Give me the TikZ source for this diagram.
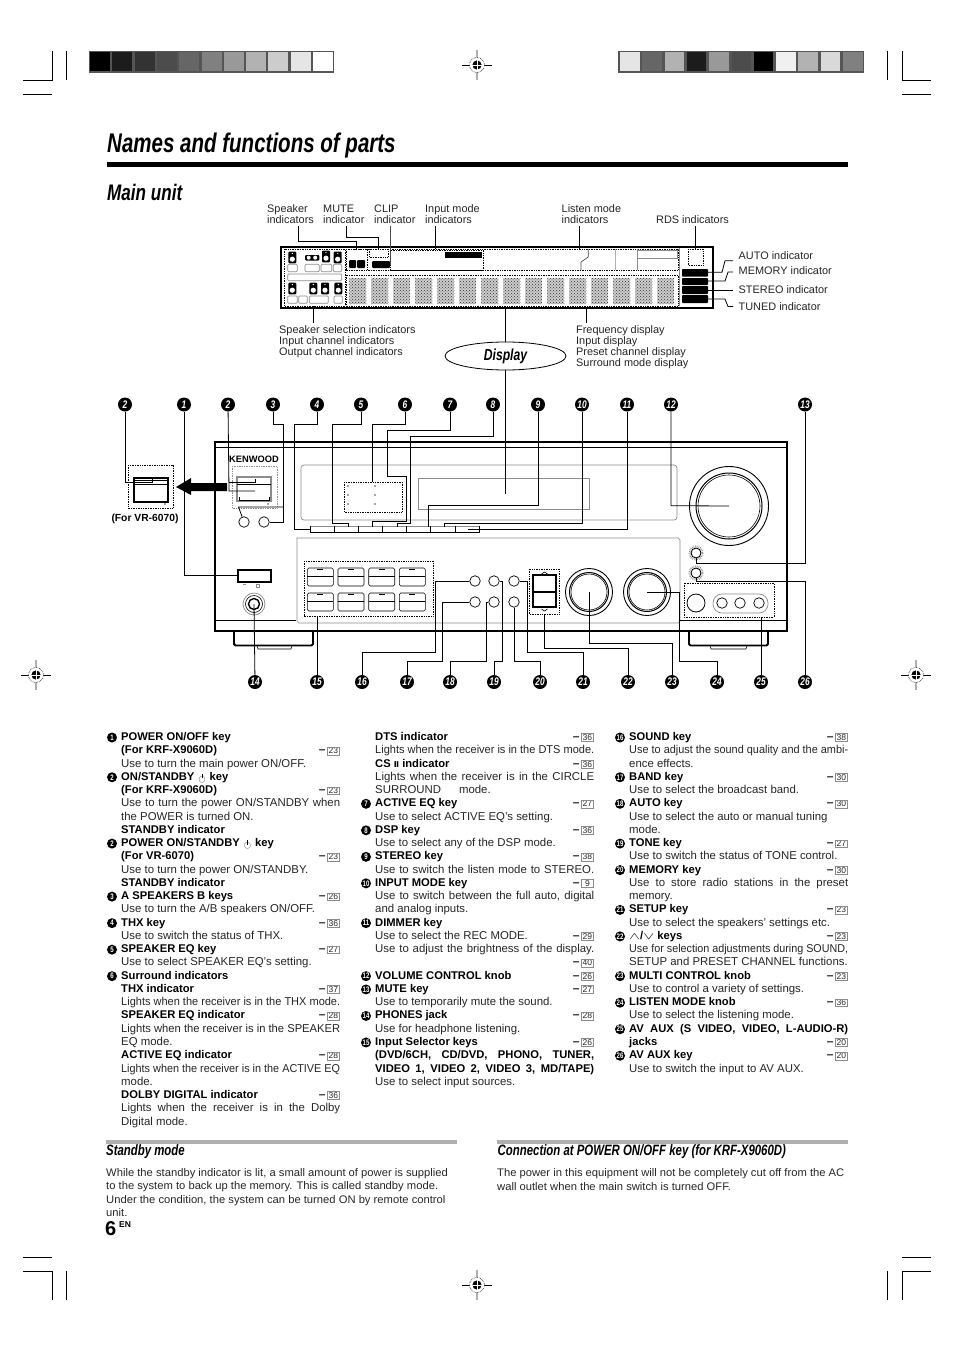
\documentclass[tikz,border=0pt]{standalone}
\usepackage{fontspec}
\usepackage{graphicx}
\usepackage{xcolor}
\usepackage{tikz}
\usetikzlibrary{calc,patterns,shapes.geometric,arrows.meta}
\setmainfont{Liberation Sans}
\newfontfamily\headfont[FakeStretch=0.76]{Liberation Sans}
\newfontfamily\notefont[FakeStretch=1.02]{Liberation Sans}
\newfontfamily\symfont{DejaVu Sans}
\definecolor{ink}{HTML}{262626}
\definecolor{muted}{HTML}{8C8C8C}
\definecolor{barline}{HTML}{555555}
\definecolor{rulegray}{HTML}{B0B0B0}
\tikzset{
  lead/.style={draw=black, line width=0.8pt},
  cut/.style={draw=black, line width=0.8pt},
  body/.style={draw=black, line width=1.9pt},
  thin/.style={draw=black, line width=0.6pt},
  pale/.style={draw=muted, line width=0.7pt},
  dots/.style={draw=black, line width=0.7pt, densely dotted},
  callnum/.style={circle, fill=black, inner sep=0pt, minimum size=14pt, text=white,
    font=\headfont\bfseries\itshape\fontsize{11}{11}\selectfont},
  listnum/.style={circle, fill=black, inner sep=0pt, minimum size=10pt, text=white,
    font=\headfont\bfseries\fontsize{8}{8}\selectfont},
  roundkey/.style={circle, draw=black, line width=0.7pt, inner sep=0pt, minimum size=10.5pt},
  lab/.style={anchor=west, inner sep=0pt, yshift=-0.7pt, text=ink, text height=8pt, text depth=2pt,
    font=\fontsize{10.9}{13}\selectfont},
  listr/.style={anchor=west, inner sep=0pt, text=ink, text height=8pt, text depth=2pt,
    font=\fontsize{11.4}{13}\selectfont},
  labb/.style={anchor=west, inner sep=0pt, text=black, text height=8pt, text depth=2pt,
    font=\bfseries\fontsize{11.2}{13}\selectfont},
  note/.style={anchor=west, inner sep=0pt, text=ink, text height=8pt, text depth=2pt,
    font=\notefont\fontsize{11}{13}\selectfont},
  bighead/.style={anchor=west, inner sep=0pt, text=black},
  pgnum/.style={anchor=east, inner sep=0pt, text=ink, text height=8pt, text depth=2pt,
    font=\fontsize{8.5}{9}\selectfont},
}
\newlength{\fitw}
\newcommand{\fitline}[1]{\settowidth{\fitw}{#1}\ifdim\fitw>219pt\resizebox{219pt}{\height}{#1}\else\makebox[219pt][s]{#1}\fi}
\newcommand{\pwr}{\makebox[9pt]{\ooalign{\hfil\raisebox{-1pt}{\scalebox{.62}{$\bigcirc$}}\hfil\cr\hfil\rule[2pt]{.7pt}{4.5pt}\hfil\cr}}}
\newcommand{\pgbox}[1]{\textbf{\large --}\kern1.5pt\fcolorbox{muted}{white}{\makebox[10.5pt]{#1}}}
\setlength{\fboxsep}{0.7pt}
\setlength{\fboxrule}{0.4pt}

\begin{document}
\begin{tikzpicture}[x=1pt,y=-1pt]
  \useasboundingbox (0,0) rectangle (954,1351);
  \fill[white] (0,0) rectangle (954,1351);
  % printer marks
  \fill[barline] (89,51) rectangle (334,73);
  \foreach \i/\g in {0/0,1/11,2/20,3/30,4/40,5/50,6/60,7/70,8/80,9/90,10/100}
    \fill[white!\g!black] ({90+22.3*\i},52) rectangle ({110+22.3*\i},71.5);
  \fill[barline] (618,51) rectangle (864,73);
  \foreach \i/\g in {0/90,1/40,2/70,3/11,4/60,5/30,6/0,7/94,8/70,9/85,10/50}
    \fill[white!\g!black] ({620+22.3*\i},52) rectangle ({639.5+22.3*\i},71.5);
  \foreach \x/\xa in {52/23,902/931} {
    \draw[cut] (\x,51) -- (\x,80) -- (\xa,80);
    \draw[cut] (\x,94) -- (\xa,94);
    \draw[cut] (\x,1300) -- (\x,1271) -- (\xa,1271);
    \draw[cut] (\x,1257) -- (\xa,1257);
  }
  \foreach \x in {66,887} {
    \draw[cut] (\x,51) -- (\x,80);
    \draw[cut] (\x,1271) -- (\x,1300);
  }
  \foreach \x/\y in {477/65,36/675,916/675,477/1285} {
    \draw[draw=rulegray, line width=1.4pt] (\x,\y-15) -- (\x,\y+15);
    \draw[thin] (\x-15,\y) -- (\x+15,\y);
    \draw[thin, densely dotted, fill=white] (\x,\y) circle (7.5);
    \fill[black] (\x,\y) circle (4.6);
    \draw[draw=white, line width=0.7pt] (\x-4.6,\y) -- (\x+4.6,\y) (\x,\y-4.6) -- (\x,\y+4.6);
  }
  % titles
  \node[bighead, font=\headfont\bfseries\itshape\fontsize{27}{30}\selectfont] (title) at (107,145.5) {Names and functions of parts};
  \fill[black] (107,162) rectangle (848,167);
  \node[bighead, font=\headfont\bfseries\itshape\fontsize{22.5}{24}\selectfont] (mainunit) at (107,192.5) {Main unit};
  % display window
  \draw[body, line width=1.7pt] (281,247) rectangle (713,308);
  \draw[dots] (284,249) rectangle (345,306);
  \draw[dots] (346,249) rectangle (678,270);
  \draw[dots] (346,275) rectangle (678,306);
  \draw[dots] (346,249) rectangle (367,270);
  \draw[dots] (369,249) rectangle (388,257);
  \draw[dots] (390,250) rectangle (483,270);
  \fill[black, rounded corners=1pt] (372,261) rectangle (390,268);
  \fill[black, rounded corners=1pt] (349,260) rectangle (356,268);
  \fill[black, rounded corners=1pt] (357,260) rectangle (365,268);
  \fill[black] (445,252) rectangle (482,258);
  \draw[pale, rulegray] (615,249) -- (615,270);
  \draw[pale] (637,249) -- (637,270);
  \draw[pale] (637,250) rectangle (677,258);
  \draw[pale, line width=1pt] (679,248) -- (679,306);
  \draw[dots] (688,249) rectangle (703,265);
  \foreach \y/\ya in {269/276.7,278/285,286/294,295/303}
    \fill[black, rounded corners=0.8pt] (682,\y) rectangle (708,\ya);
  \foreach \x/\y in {292.3/251.7,326/250.7,337.7/251.7,292.3/282.7,313.3/282.7,325/282.7,338.3/282.7} {
    \fill[black, rounded corners=1pt] (\x-4,\y) rectangle (\x+4,\y+11.6);
    \fill[white] (\x,\y+7.5) circle (2.6);
    \fill[white] (\x,\y+1.8) circle (0.7);
  }
  \fill[black, rounded corners=1pt] (305,255) rectangle (319.3,260.5);
  \fill[white] (308.7,257.7) circle (2) (315.2,257.7) circle (2);
  \foreach \xa/\ya/\xb/\yb in {287.7/264.3/297.3/271.7,305/264.3/319.3/271.7,321/264.3/331.7/271.7,333.3/264.3/341.7/271.7,
    287.7/274/341.7/280.7,287.7/296/297.3/303.3,298.7/296/307.3/303.3,309.3/296/328.3/303.3,334/296/342.3/303.3}
    \draw[pale, rounded corners=1pt] (\xa,\ya) rectangle (\xb,\yb);
  \foreach \i in {0,...,14}
    \fill[pattern=crosshatch dots, pattern color=black!80, preaction={fill=black!20}] ({349.3+22*\i},278) rectangle ({366.3+22*\i},304);
  % display labels
  \foreach \nm/\x/\y/\txt in {a/267/209/Speaker,b/267/219.5/indicators,c/323/209/MUTE,d/323/219.5/indicator,
    e/374/209/CLIP,f/374/219.5/indicator,g/425/209/Input mode,h/425/219.5/indicators,
    i/561.5/209/Listen mode,j/561.5/219.5/indicators,k/656/220/RDS indicators,
    l/738.5/256/AUTO indicator,m/738.5/271/MEMORY indicator,n/738.5/290/STEREO indicator,o/738.5/307/TUNED indicator,
    p/279/329.5/Speaker selection indicators,q/279/340.5/Input channel indicators,r/279/351.5/Output channel indicators,
    s/576/329.5/Frequency display,t/576/340.5/Input display,u/576/351.5/Preset channel display,v/576/362.5/Surround mode display}
    \node[lab] (d\nm) at (\x,\y) {\txt};
  \draw[lead] (298,226) -- (298,241.7) -- (356.7,241.7) -- (356.7,249);
  \draw[lead] (346.7,226) -- (346.7,237) -- (378,237) -- (378,249);
  \draw[pale, black!70] (390.7,226) -- (390.7,265);
  \draw[lead] (435.7,226) -- (435.7,249);
  \draw[lead] (579.3,226) -- (579.3,249);
  \draw[pale, black!70] (588.3,249) -- (588.3,257) -- (581,262) -- (581,270);
  \draw[lead] (695,226) -- (695,249);
  \draw[lead] (708,272.3) -- (722,272.3) -- (725,260.7) -- (733,260.7);
  \draw[lead] (708,281) -- (725,281) -- (728,272) -- (733,272);
  \draw[lead] (708,290) -- (733,290);
  \draw[lead] (708,299) -- (725,299) -- (728,306.5) -- (733,306.5);
  \draw[lead] (313,306) -- (313,323);
  \draw[lead] (586.7,308) -- (586.7,323);
  \node[ellipse, draw=black, line width=0.8pt, minimum width=121pt, minimum height=28pt, inner sep=0pt,
    font=\headfont\bfseries\itshape\fontsize{16}{16}\selectfont] (dispell) at (505.5,356) {Display};
  \coordinate (dispwin) at (505.5,308);
  \coordinate (dispfront) at (505.5,494);
  \draw[lead] (dispwin) -- (dispell);
  % receiver
  \draw[pale] (297,538) -- (678,538) -- (680,540) -- (680,621) -- (678,623) -- (299,623) -- (297,621) -- (297,540) -- cycle;
  \draw[pale, rounded corners=3pt] (301,465) rectangle (677,520);
  \draw[pale] (418,478) rectangle (589,509);
  \draw[body] (215,631) -- (215,442) -- (787,442) -- (787,631) -- cycle;
  \draw[thin] (215,447.5) -- (787,447.5);
  \draw[thin] (215,620) -- (296,620);
  \draw[thin] (680,620) -- (787,620);
  \foreach \xa/\xb/\xc/\xd in {234/313/257/292,689/768/710/747} {
    \draw[body, rounded corners=1.5pt] (\xa,631) -- (\xa,645.5) -- (\xb,645.5) -- (\xb,631);
    \draw[thin] (\xc,646) -- (\xc+1,649) -- (\xd-1,649) -- (\xd,646);
  }
  \node[inner sep=0pt, font=\bfseries\fontsize{9.3}{10}\selectfont] (brand) at (254,459) {KENWOOD};
  % standby keys
  \draw[pale, densely dotted] (232,466) rectangle (277,508);
  \draw[pale, line width=1.4pt] (237,477) rectangle (271,501);
  \draw[thin] (237,484) -- (271,484);
  \draw[body, line width=0.9pt] (239,497) -- (239,500) -- (269,500) -- (269,497);
  \fill[black!70] (268,504) circle (0.9);
  \draw[dots] (128,465) rectangle (173,508);
  \draw[body, line width=1.5pt] (134,478) rectangle (168,502);
  \draw[body, line width=1pt] (134,484.5) -- (168,484.5);
  \draw[thin] (134,480) -- (168,480);
  \fill[black!70] (165,504) circle (0.9);
  \node[inner sep=0pt, font=\bfseries\fontsize{10.3}{11}\selectfont] (forvr) at (145,519) {(For VR-6070)};
  \fill[black] (227,483) -- (191,483) -- (191,478) -- (176,487) -- (191,495) -- (191,491) -- (227,491) -- cycle;
  \node[roundkey] (keyA) at (244,522) {};
  \node[roundkey] (keyB) at (264,522) {};
  % display panel keys
  \draw[pale] (310,526) -- (479.3,526);
  \draw[thin, line width=1pt] (310,532.5) -- (479.3,532.5);
  \foreach \x in {310,334.3,358.3,382.7,406.7,430.7,455,479.3}
    \draw[thin] (\x,526) -- (\x,532.5);
  \draw[dots] (344,482) rectangle (402,512);
  \foreach \x in {348,375}
    \foreach \y in {486,495,504}
      \fill[black!70] (\x,\y) circle (0.8);
  % power, phones
  \draw[body] (238,570) rectangle (271,582);
  \draw[pale] (243,584) -- (246,584) (256,584) rectangle (259,587);
  \draw[pale] (254,604) circle (11);
  \draw[thin] (254,604) circle (8.5);
  \draw[body, line width=1.4pt] (254,604) circle (5.5);
  \coordinate (phones) at (254,604);
  % input selector
  \draw[dots] (304,561) rectangle (433,616);
  \foreach \x in {307.3,338,368.7,399.3}
    \foreach \y in {568,593} {
      \draw[thin, rounded corners=1.5pt] (\x,\y) rectangle (\x+26,\y+18);
      \draw[thin] (\x,\y+8.5) -- (\x+26,\y+8.5);
      \draw[thin] (\x+10,\y+1.5) -- (\x+16,\y+1.5);
    }
  \foreach \nm/\x/\y in {sound/475/581,band/475/602,auto/494/581,tone/494/602,setup/514/581,memory/514/602}
    \node[roundkey] (\nm) at (\x,\y) {};
  % up down keys
  \draw[dots] (529,569) rectangle (559,614);
  \draw[body, line width=1.3pt] (533,575) rectangle (556,607);
  \draw[body, line width=1.3pt] (533,592) -- (556,592);
  \draw[thin] (541.5,574) -- (544.5,572) -- (547.5,574);
  \draw[thin] (541.5,609) -- (544.5,611) -- (547.5,609);
  % knobs
  \foreach \x/\y/\ra/\rb/\rc in {589/592/23.5/19.5/18,647/592/23.5/19.5/18,729/506/39.5/33/31} {
    \draw[thin, line width=0.9pt] (\x,\y) circle (\ra);
    \draw[thin, line width=1pt] (\x,\y) circle (\rb);
    \draw[thin] (\x,\y) circle (\rc);
  }
  \coordinate (multi) at (589,592);
  \coordinate (listen) at (647,592);
  \coordinate (volume) at (729,506);
  \foreach \nm/\y in {mute/553,avkey/573} {
    \draw[pale, densely dotted, line width=1.6pt] (696,\y) circle (6.7);
    \node[circle, draw=black, line width=0.9pt, inner sep=0pt, minimum size=10pt] (\nm) at (696,\y) {};
  }
  \draw[dots] (684,583) rectangle (774,617);
  \node[circle, draw=black, line width=0.8pt, inner sep=0pt, minimum size=18pt] (avS) at (696,603) {};
  \draw[pale, rounded corners=9pt] (713,594) rectangle (768,613);
  \foreach \x in {722,740,759}
    \node[roundkey] at (\x,603) {};
  % callout numbers
  \foreach \nm/\x/\n in {2b/125/2,1/184/1,2/228/2,3/273/3,4/317/4,5/361/5,6/405/6,7/450/7,8/493/8,9/538/9,
    10/582/10,11/627/11,12/671/12,13/805/13}
    \node[callnum] (n\nm) at (\x,404.5) {\n};
  \foreach \x/\n in {255/14,317/15,362/16,407/17,450/18,494/19,540/20,583/21,628/22,672/23,717/24,761/25,805/26}
    \node[callnum] (n\n) at (\x,682) {\n};
  % connectors
  \draw[lead] (n2b) -- (125,482.3) -- (152,482.3) -- (152,479);
  \draw[lead] (n1) -- (184,575) -- (238,575);
  \draw[lead] (n2) -- (229,491) -- (255,491);
  \draw[lead] (229,482.3) -- (255,482.3) -- (255,479);
  \draw[lead] (n3) -- (273,424) -- (283,424) -- (283,522) -- (keyB);
  \draw[lead] (283,507) -- (238.5,507) -- (keyA);
  \draw[lead] (n4) -- (317,424) -- (294,424) -- (294,529) -- (310,529);
  \draw[lead] (n5) -- (361,424) -- (332,424) -- (332,523) -- (348,523) -- (348,527);
  \draw[lead] (n6) -- (405,424) -- (372,424) -- (372,482);
  \draw[lead] (n7) -- (450,430.7) -- (387,430.7) -- (387,476) -- (406,476) -- (406,521) -- (372.7,521) -- (372.7,527);
  \draw[lead] (n8) -- (493,436.7) -- (410,436.7) -- (410,523) -- (397,523) -- (397,527);
  \draw[lead] (n9) -- (538,505.7) -- (428,505.7) -- (428,527);
  \draw[lead] (n10) -- (582,523) -- (444,523) -- (444,527);
  \draw[lead] (n11) -- (627,529) -- (468,529);
  \draw[lead] (n12) -- (671,505.7) -- (volume);
  \draw[lead] (n13) -- (805,563) -- (696,563) -- (mute);
  \draw[lead] (dispell) -- (dispfront);
  \draw[lead] (n14) -- (phones);
  \draw[lead] (n15) -- (317,616);
  \draw[lead] (n16) -- (362,652) -- (435,652) -- (435,581) -- (sound);
  \draw[lead] (n17) -- (407,661.5) -- (442.7,661.5) -- (442.7,602) -- (band);
  \draw[lead] (n18) -- (450,661.5) -- (486,661.5) -- (486,602) -- (tone);
  \draw[lead] (n19) -- (494,661.5) -- (502,661.5) -- (502,581) -- (auto);
  \draw[lead] (n20) -- (540,661.5) -- (514,661.5) -- (memory);
  \draw[lead] (n21) -- (583,652.7) -- (527,652.7) -- (527,581) -- (setup);
  \draw[lead] (n22) -- (628,648) -- (544,648) -- (544,614);
  \draw[lead] (n23) -- (672,643.3) -- (589,643.3) -- (multi);
  \draw[lead] (n24) -- (717,661.5) -- (679,661.5) -- (679,592) -- (listen);
  \draw[lead] (n25) -- (761,617);
  \draw[lead] (n26) -- (805,581) -- (696,581) -- (avkey);
  % list, column one
  \def\cx{121}
  \def\ytop{737.5}
  \foreach \k/\n in {0/1,3/2,8/2,12/3,14/4,16/5,18/6}
    \node[listnum] (a\k) at (\cx-9,{\ytop+13.26*\k}) {\n};
  \foreach \k/\txt in {0/{POWER ON/OFF key},1/{(For KRF-X9060D)},3/{ON/STANDBY \pwr{} key},4/{(For KRF-X9060D)},7/{STANDBY indicator},
    8/{POWER ON/STANDBY \pwr{} key},9/{(For VR-6070)},11/{STANDBY indicator},12/{A SPEAKERS B keys},14/{THX key},16/{SPEAKER EQ key},
    18/{Surround indicators},19/{THX indicator},21/{SPEAKER EQ indicator},24/{ACTIVE EQ indicator},27/{DOLBY DIGITAL indicator}}
    \node[labb] (b\k) at (\cx,{\ytop+13.26*\k}) {\txt};
  \foreach \k/\txt in {2/{Use to turn the main power ON/OFF.},5/{\fitline{Use to turn the power ON/STANDBY when}},6/{the POWER is turned ON.},
    10/{Use to turn the power ON/STANDBY.},13/{Use to turn the A/B speakers ON/OFF.},15/{Use to switch the status of THX.},
    17/{Use to select SPEAKER EQ’s setting.},20/{\fitline{Lights when the receiver is in the THX mode.}},
    22/{\fitline{Lights when the receiver is in the SPEAKER}},23/{EQ mode.},25/{\fitline{Lights when the receiver is in the ACTIVE EQ}},26/{mode.},
    28/{\fitline{Lights when the receiver is in the Dolby}},29/{Digital mode.}}
    \node[listr] (c\k) at (\cx,{\ytop+13.26*\k}) {\txt};
  \foreach \k/\n in {1/23,4/23,9/23,12/26,14/36,16/27,19/37,21/28,24/28,27/36}
    \node[pgnum] (e\k) at (\cx+219,{\ytop+13.26*\k}) {\pgbox{\n}};
  % list, column two
  \def\cx{375}
  \foreach \k/\n in {5/7,7/8,9/9,11/10,14/11,18/12,19/13,21/14,23/15}
    \node[listnum] (f\k) at (\cx-9,{\ytop+13.26*\k}) {\n};
  \foreach \k/\txt in {0/{DTS indicator},2/{CS {\symfont\fontsize{8}{9}\selectfont Ⅱ} indicator},5/{ACTIVE EQ key},7/{DSP key},9/{STEREO key},11/{INPUT MODE key},14/{DIMMER key},
    18/{VOLUME CONTROL knob},19/{MUTE key},21/{PHONES jack},23/{Input Selector keys},24/{\fitline{(DVD/6CH, CD/DVD, PHONO, TUNER,}},
    25/{\fitline{VIDEO 1, VIDEO 2, VIDEO 3, MD/TAPE)}}}
    \node[labb] (g\k) at (\cx,{\ytop+13.26*\k}) {\txt};
  \foreach \k/\txt in {1/{\fitline{Lights when the receiver is in the DTS mode.}},3/{\fitline{Lights when the receiver is in the CIRCLE}},
    4/{SURROUND\hspace*{18pt}mode.},6/{Use to select ACTIVE EQ’s setting.},8/{Use to select any of the DSP mode.},10/{\fitline{Use to switch the listen mode to STEREO.}},
    12/{\fitline{Use to switch between the full auto, digital}},13/{and analog inputs.},15/{Use to select the REC MODE.},
    16/{\fitline{Use to adjust the brightness of the display.}},20/{Use to temporarily mute the sound.},22/{Use for headphone listening.},
    26/{Use to select input sources.}}
    \node[listr] (h\k) at (\cx,{\ytop+13.26*\k}) {\txt};
  \foreach \k/\n in {0/36,2/36,5/27,7/36,9/38,11/9,15/29,17/40,18/26,19/27,21/28,23/26}
    \node[pgnum] (i\k) at (\cx+219,{\ytop+13.26*\k}) {\pgbox{\n}};
  % list, column three
  \def\cx{629}
  \foreach \k/\n in {0/16,3/17,5/18,8/19,10/20,13/21,15/22,18/23,20/24,22/25,24/26}
    \node[listnum] (j\k) at (\cx-9,{\ytop+13.26*\k}) {\n};
  \foreach \k/\txt in {0/{SOUND key},3/{BAND key},5/{AUTO key},8/{TONE key},10/{MEMORY key},13/{SETUP key},15/{\scalebox{1.5}[.9]{$\wedge$}/\scalebox{1.5}[.9]{$\vee$} keys},
    18/{MULTI CONTROL knob},20/{LISTEN MODE knob},22/{\fitline{AV AUX (S VIDEO, VIDEO, L-AUDIO-R)}},23/{jacks},24/{AV AUX key}}
    \node[labb] (l\k) at (\cx,{\ytop+13.26*\k}) {\txt};
  \foreach \k/\txt in {1/{\fitline{Use to adjust the sound quality and the ambi-}},2/{ence effects.},4/{Use to select the broadcast band.},
    6/{Use to select the auto or manual tuning},7/{mode.},9/{Use to switch the status of TONE control.},
    11/{\fitline{Use to store radio stations in the preset}},12/{memory.},14/{Use to select the speakers’ settings etc.},
    16/{\fitline{Use for selection adjustments during SOUND,}},17/{SETUP and PRESET CHANNEL functions.},19/{Use to control a variety of settings.},
    21/{Use to select the listening mode.},25/{Use to switch the input to AV AUX.}}
    \node[listr] (m\k) at (\cx,{\ytop+13.26*\k}) {\txt};
  \foreach \k/\n in {0/38,3/30,5/30,8/27,10/30,13/23,15/23,18/23,20/36,23/20,24/20}
    \node[pgnum] (o\k) at (\cx+219,{\ytop+13.26*\k}) {\pgbox{\n}};
  % notes
  \fill[rulegray] (106,1140) rectangle (457,1143.5);
  \fill[rulegray] (497,1140) rectangle (848,1143.5);
  \node[bighead, font=\headfont\bfseries\itshape\fontsize{15}{15}\selectfont] (stbyh) at (106,1151.5) {Standby mode};
  \node[bighead, font=\headfont\bfseries\itshape\fontsize{15}{15}\selectfont] (connh) at (497.5,1151.5) {Connection at POWER ON/OFF key (for KRF-X9060D)};
  \foreach \nm/\y/\txt in {a/1173/{While the standby indicator is lit, a small amount of power is supplied},
    b/1186.5/{to the system to back up the memory. This is called standby mode.},
    c/1200/{Under the condition, the system can be turned ON by remote control},d/1213.5/{unit.}}
    \node[note] (s\nm) at (106,\y) {\txt};
  \foreach \nm/\y/\txt in {a/1173/{The power in this equipment will not be completely cut off from the AC},
    b/1187/{wall outlet when the main switch is turned OFF.}}
    \node[note] (t\nm) at (497,\y) {\txt};
  \node[bighead, font=\bfseries\fontsize{20}{22}\selectfont] (pagenum) at (105,1229) {6};
  \node[bighead, font=\bfseries\fontsize{8.5}{10}\selectfont] (pagelang) at (119,1224.5) {EN};
\end{tikzpicture}
\end{document}
